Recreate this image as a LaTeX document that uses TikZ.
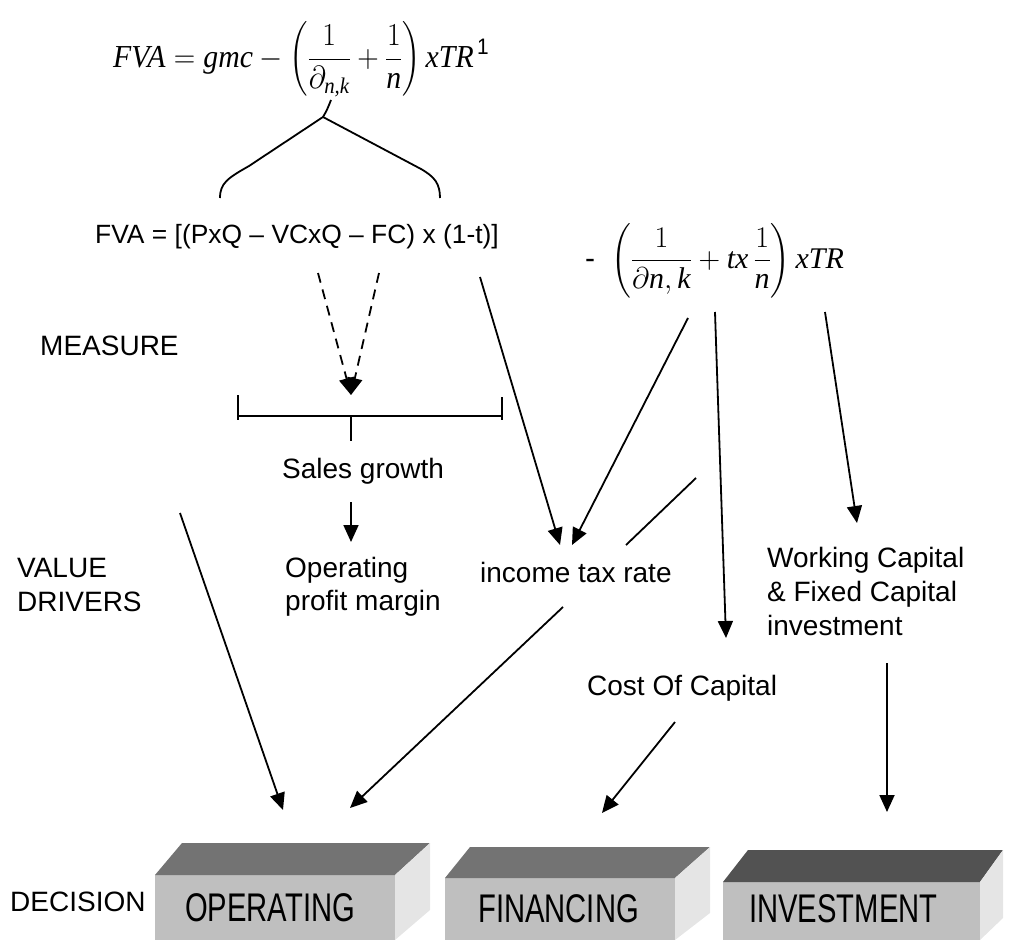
\RequirePackage{fix-cm}
\documentclass[tikz,border=0pt]{standalone}
\usepackage{amsmath}
\usepackage{graphicx}
\usepackage{fontspec}
\setmainfont{Liberation Serif}
\setsansfont{Liberation Sans}
\newfontfamily\narrowfont[FakeStretch=0.73]{Liberation Sans}
\usetikzlibrary{arrows.meta}
\newcommand{\mi}[1]{\textit{#1}}
\tikzset{
  lbl/.style={font=\sffamily\fontsize{28}{33}\selectfont, inner sep=0pt, anchor=base west},
  con/.style={line width=1.8pt, -{Triangle[width=15pt,length=17pt]}},
  plain/.style={line width=1.8pt},
  dsh/.style={line width=1.8pt, dash pattern=on 10pt off 7pt, -{Triangle[width=15pt,length=17pt]}},
  boxtxt/.style={font=\narrowfont\fontsize{40}{40}\selectfont, inner sep=0pt, anchor=base west},
  frontf/.style={fill=black!25},
  topf/.style={fill=black!55},
  sidef/.style={fill=black!10},
}
\begin{document}
\begin{tikzpicture}[x=1pt,y=-1pt]
\useasboundingbox (0,0) rectangle (1010,942);

% ---------- formulas ----------
\node[inner sep=0pt, anchor=base west, font=\fontsize{32}{40}\selectfont] (fvatop) at (113,67)
  {\scalebox{0.93}[1]{$\mi{FVA} = \mi{gmc} - \left(\dfrac{1}{\partial_{\mi{n,k}}} + \dfrac{1}{\mi{n}}\right)\mi{xTR}^{\,\textsf{1}}$}};

\draw[plain] (220,198) .. controls (220,183) and (228,178) .. (249,166) -- (323,117)
  -- (421,169) .. controls (435,177) and (440,184) .. (440,198);
\draw[plain] (323,117) .. controls (327,110) .. (331,100);

\node[lbl, font=\sffamily\fontsize{26.4}{30}\selectfont] (fvaline) at (95,243)
  {FVA = [(PxQ – VCxQ – FC) x (1-t)]};

\node[inner sep=0pt, anchor=base west, font=\fontsize{30}{36}\selectfont] (fvasec) at (585,268)
  {\textsf{-}\hspace{16pt}$\left(\dfrac{1}{\partial \mi{n},\mi{k}} + \mi{tx}\,\dfrac{1}{\mi{n}}\right)\mi{xTR}$};

% ---------- labels ----------
\node[lbl] (measure) at (40,355) {MEASURE};
\node[lbl] (value) at (17,577) {VALUE};
\node[lbl] (drivers) at (17,611) {DRIVERS};
\node[lbl] (decision) at (10,911) {DECISION};
\node[lbl] (sales) at (282,478) {Sales growth};
\node[lbl] (opm1) at (285,577) {Operating};
\node[lbl] (opm2) at (285,610) {profit margin};
\node[lbl] (tax) at (480,582) {income tax rate};
\node[lbl] (wc1) at (767,567) {Working Capital};
\node[lbl] (wc2) at (767,601) {\& Fixed Capital};
\node[lbl] (wc3) at (767,635) {investment};
\node[lbl] (coc) at (587,695) {Cost Of Capital};

% ---------- connector end points ----------
\coordinate (dl) at (318,273);
\coordinate (dr) at (379,273);
\coordinate (dt) at (351,395);
\coordinate (fvaend) at (480,277);
\coordinate (taxL) at (560,545);
\coordinate (taxR) at (572,545);
\coordinate (pk) at (688,318);
\coordinate (pplus) at (715,312);
\coordinate (cocTip) at (726,638);
\coordinate (pxtr) at (825,312);
\coordinate (wcTip) at (857,523);
\coordinate (sgS) at (351,502);
\coordinate (opmTip) at (351,542);
\coordinate (diagA) at (696,478);
\coordinate (diagB) at (626,545);
\coordinate (diagC) at (563,607);
\coordinate (opTip2) at (350,808);
\coordinate (vdS) at (180,513);
\coordinate (opTip1) at (283,810);
\coordinate (cocS) at (675,722);
\coordinate (finTip) at (602,813);
\coordinate (wcS) at (887,663);
\coordinate (invTip) at (887,812);

% ---------- connectors ----------
\draw[dsh] (dl) -- (dt);
\draw[dsh] (dr) -- (dt);
\draw[plain, line width=1.5pt] (238,395) -- (238,420) (238,416) -- (502,416) (502,397) -- (502,420) (351,416) -- (351,441);
\draw[con] (sgS) -- (opmTip);
\draw[con] (fvaend) -- (taxL);
\draw[con] (pk) -- (taxR);
\draw[con] (pplus) -- (cocTip);
\draw[con] (pxtr) -- (wcTip);
\draw[plain] (diagA) -- (diagB);
\draw[con] (diagC) -- (opTip2);
\draw[con] (vdS) -- (opTip1);
\draw[con] (cocS) -- (finTip);
\draw[con] (wcS) -- (invTip);

% ---------- decision boxes ----------
\fill[frontf] (155,875) rectangle (395,940);
\fill[topf] (155,875) -- (182,843) -- (430,843) -- (395,875) -- cycle;
\fill[sidef] (395,875) -- (430,843) -- (430,910) -- (395,940) -- cycle;
\node[boxtxt] (oper) at (185,921) {OPERATING};

\fill[frontf] (445,878) rectangle (675,940);
\fill[topf] (445,878) -- (470,847) -- (710,847) -- (675,878) -- cycle;
\fill[sidef] (675,878) -- (710,847) -- (710,913) -- (675,940) -- cycle;
\node[boxtxt] (fin) at (478,922) {FINANCING};

\fill[frontf] (723,882) rectangle (980,940);
\fill[topf, fill=black!68] (723,882) -- (748,850) -- (1003,850) -- (980,882) -- cycle;
\fill[sidef] (980,882) -- (1003,850) -- (1003,918) -- (980,940) -- cycle;
\node[boxtxt] (inv) at (749,922) {INVESTMENT};
\end{tikzpicture}
\end{document}
